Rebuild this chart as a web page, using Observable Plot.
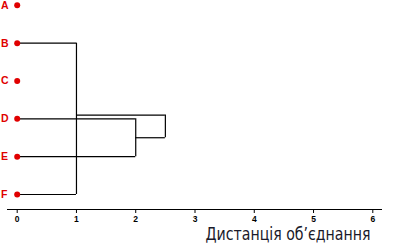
<!DOCTYPE html>
<html><head><meta charset="utf-8">
<script src="https://cdn.jsdelivr.net/npm/d3@7"></script>
<script src="https://cdn.jsdelivr.net/npm/@observablehq/plot@0.6"></script>
<style>body{margin:0;background:#fff}</style>
</head><body><div id="chart"></div>
<script>
const leaves = ["A","B","C","D","E","F"];
const leafOrder = [0,1,2,3,4,5];
const clusterNames = ["BF","DE","BFDE"];
const clusterHeights = [1, 2, 2.5];
const clusterChildren = [["B","F"],["D","E"],["BF","DE"]];
const clusterNodeY = [2.9, 3.5, 3.2];
const xTicks = [0,1,2,3,4,5,6];
const axisTitle = "Дистанція об’єднання";

const nodeX = {}, nodeY = {};
leaves.forEach((l,i)=>{nodeX[l]=0; nodeY[l]=leafOrder[i];});
clusterNames.forEach((c,i)=>{nodeX[c]=clusterHeights[i]; nodeY[c]=clusterNodeY[i];});
const hsegs = [], vsegs = [];
clusterNames.forEach((c,i)=>{
  const h = clusterHeights[i];
  const ys = clusterChildren[i].map(ch=>nodeY[ch]);
  clusterChildren[i].forEach(ch=>hsegs.push({y:nodeY[ch], x1:nodeX[ch], x2:h}));
  vsegs.push({x:h, y1:Math.min(...ys), y2:Math.max(...ys)});
});
const leafData = leaves.map((l,i)=>({name:l, y:leafOrder[i]}));

const chart = Plot.plot({
  width: 393, height: 252,
  marginLeft: 7, marginRight: 12, marginTop: 0, marginBottom: 43,
  style: {fontFamily: "Liberation Sans, Arial, sans-serif", background: "#fff"},
  x: {domain: [0,6], range: [16.7, 372.3]},
  y: {domain: [0,5], range: [4.8, 194], axis: null},
  marks: [
    Plot.frame({anchor: "bottom", stroke: "#000", strokeWidth: 1}),
    Plot.axisX(xTicks, {anchor: "bottom", tickSize: 4, tickPadding: 2.5, fontSize: 8.5, fontWeight: "bold", label: null}),
    Plot.ruleY(hsegs, {y: "y", x1: "x1", x2: "x2", stroke: "#000", strokeWidth: 1.2}),
    Plot.ruleX(vsegs, {x: "x", y1: "y1", y2: "y2", stroke: "#000", strokeWidth: 1.2}),
    Plot.dot(leafData, {x: 0, y: "y", r: 3, fill: "#e00000", stroke: null}),
    Plot.text(leafData, {x: 0, y: "y", text: "name", dx: -16.2, textAnchor: "start", fill: "#e00000", fontWeight: "bold", fontSize: 10.5}),
    Plot.text([axisTitle], {frameAnchor: "bottom-right", text: d=>d, dx: -11, dy: 30, textAnchor: "end", lineAnchor: "bottom", fontSize: 17.5, fill: "#1a1a2a", fontFamily: "DejaVu Sans Condensed, sans-serif", className: "axis-title"})
  ]
});
d3.select(chart).selectAll(".axis-title text").attr("textLength", 165).attr("lengthAdjust", "spacingAndGlyphs");
document.getElementById("chart").append(chart);
</script>
</body></html>
